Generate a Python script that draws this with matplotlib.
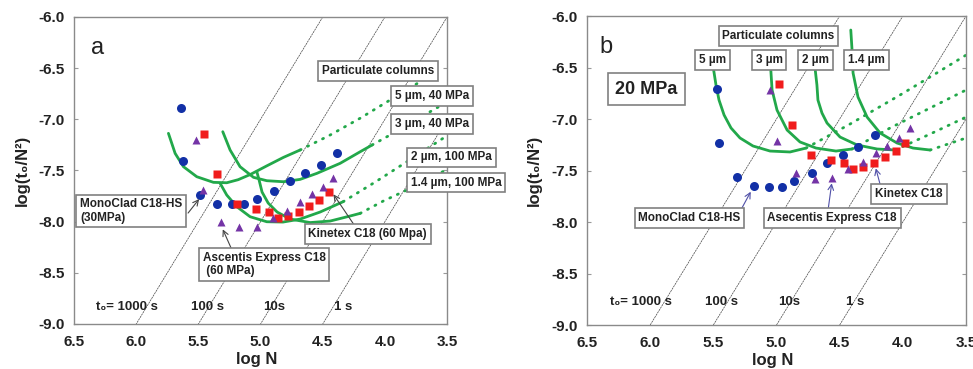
import numpy as np
import matplotlib
matplotlib.use("Agg")
import matplotlib.pyplot as plt

plt.rcParams['font.family'] = ['Liberation Sans', 'DejaVu Sans']
plt.rcParams['axes.unicode_minus'] = False

# ---- panel a data ----
a_mono_x = [5.642, 5.626, 5.486, 5.352, 5.231, 5.130, 5.025, 4.889, 4.762, 4.639, 4.518, 4.387]
a_mono_y = [-6.886, -7.408, -7.740, -7.828, -7.831, -7.828, -7.779, -7.701, -7.603, -7.528, -7.450, -7.333]
a_kin_x = [5.452, 5.350, 5.191, 5.036, 4.934, 4.861, 4.781, 4.692, 4.607, 4.527, 4.446]
a_kin_y = [-7.141, -7.535, -7.828, -7.877, -7.906, -7.962, -7.945, -7.909, -7.844, -7.789, -7.714]
a_asc_x = [5.519, 5.462, 5.317, 5.170, 5.030, 4.897, 4.784, 4.682, 4.585, 4.494, 4.414]
a_asc_y = [-7.202, -7.691, -8.001, -8.056, -8.056, -7.968, -7.893, -7.805, -7.733, -7.665, -7.571]

# kinetic plot curves, panel a: solid part then dotted extension
a_5um_x = [5.741, 5.687, 5.620, 5.513, 5.379, 5.272, 5.180, 5.084, 4.950, 4.816, 4.682]
a_5um_y = [-7.137, -7.333, -7.463, -7.561, -7.616, -7.620, -7.590, -7.540, -7.455, -7.372, -7.300]
a_5um_dx = [4.682, 4.450, 4.200, 3.958, 3.700]
a_5um_dy = [-7.300, -7.160, -6.990, -6.811, -6.620]
a_3um_x = [5.304, 5.245, 5.165, 5.057, 4.950, 4.816, 4.682, 4.547, 4.360, 4.199, 4.103]
a_3um_y = [-7.121, -7.300, -7.463, -7.567, -7.600, -7.610, -7.587, -7.528, -7.430, -7.317, -7.251]
a_3um_dx = [4.103, 3.958, 3.797, 3.612, 3.500]
a_3um_dy = [-7.251, -7.153, -7.036, -6.909, -6.830]
a_2um_x = [5.325, 5.272, 5.191, 5.084, 4.950, 4.819, 4.682, 4.521, 4.336]
a_2um_y = [-7.626, -7.740, -7.854, -7.952, -8.001, -8.004, -7.975, -7.906, -7.805]
a_2um_dx = [4.336, 4.078, 3.823, 3.500]
a_2um_dy = [-7.805, -7.613, -7.414, -7.160]
a_14um_x = [5.030, 5.012, 4.988, 4.939, 4.867, 4.762, 4.601, 4.440, 4.280, 4.199]
a_14um_y = [-7.512, -7.593, -7.711, -7.818, -7.906, -7.975, -8.009, -7.994, -7.945, -7.919]
a_14um_dx = [4.199, 4.014, 3.823, 3.500]
a_14um_dy = [-7.919, -7.799, -7.691, -7.490]

# ---- panel b data ----
b_mono_x = [5.468, 5.452, 5.315, 5.178, 5.059, 4.958, 4.859, 4.721, 4.597, 4.471, 4.357, 4.220]
b_mono_y = [-6.709, -7.230, -7.560, -7.650, -7.663, -7.657, -7.602, -7.527, -7.430, -7.350, -7.269, -7.155]
b_kin_x = [4.977, 4.877, 4.726, 4.571, 4.463, 4.397, 4.312, 4.225, 4.138, 4.056, 3.980]
b_kin_y = [-6.660, -7.061, -7.350, -7.398, -7.430, -7.485, -7.466, -7.424, -7.366, -7.311, -7.230]
b_asc_x = [5.051, 4.993, 4.848, 4.698, 4.563, 4.431, 4.317, 4.212, 4.123, 4.028, 3.943]
b_asc_y = [-6.718, -7.210, -7.527, -7.583, -7.576, -7.489, -7.414, -7.333, -7.259, -7.181, -7.090]

b_5um_x = [5.500, 5.479, 5.455, 5.415, 5.360, 5.289, 5.186, 5.051, 4.893, 4.766]
b_5um_y = [-6.505, -6.670, -6.816, -6.961, -7.087, -7.184, -7.262, -7.311, -7.320, -7.282]
b_5um_dx = [4.766, 4.418, 4.022, 3.745, 3.499]
b_5um_dy = [-7.282, -7.049, -6.767, -6.563, -6.379]
b_3um_x = [5.046, 5.035, 4.996, 4.916, 4.814, 4.687, 4.529, 4.402]
b_3um_y = [-6.505, -6.718, -6.913, -7.107, -7.223, -7.282, -7.311, -7.291]
b_3um_dx = [4.402, 4.101, 3.784, 3.499]
b_3um_dy = [-7.291, -7.087, -6.893, -6.718]
b_2um_x = [4.695, 4.680, 4.672, 4.640, 4.600, 4.497, 4.362, 4.204, 4.061]
b_2um_y = [-6.505, -6.670, -6.816, -6.942, -7.039, -7.175, -7.252, -7.291, -7.301]
b_2um_dx = [4.061, 3.784, 3.499]
b_2um_dy = [-7.301, -7.146, -6.981]
b_14um_x = [4.412, 4.402, 4.394, 4.355, 4.283, 4.180, 4.046, 3.919, 3.784]
b_14um_y = [-6.136, -6.330, -6.553, -6.786, -6.981, -7.136, -7.233, -7.282, -7.301]
b_14um_dx = [3.784, 3.499]
b_14um_dy = [-7.301, -7.184]

t0_values = [1000, 100, 10, 1]
t0_labels = ['t\u2080= 1000 s', '100 s', '10s', '1 s']
a_t0_label_x = [6.078, 5.430, 4.891, 4.340]
b_t0_label_x = [6.072, 5.439, 4.897, 4.378]

xtick_vals = [6.5, 6.0, 5.5, 5.0, 4.5, 4.0, 3.5]
ytick_vals = [-6.0, -6.5, -7.0, -7.5, -8.0, -8.5, -9.0]

GREEN = '#22a84a'
BLUE = '#1230a6'
RED = '#f01c1c'
PURPLE = '#7434a6'
BOX = dict(boxstyle='square,pad=0.32', fc='white', ec='#808080', lw=1.2)

fig = plt.figure(figsize=(9.73, 3.69), dpi=100)
ax_a = fig.add_axes([0.0761, 0.1220, 0.3834, 0.8320])
ax_b = fig.add_axes([0.6033, 0.1192, 0.3895, 0.8374])


def setup(ax, ylab_x):
    ax.set_xlim(6.5, 3.5)
    ax.set_ylim(-9.0, -6.0)
    for s in ax.spines.values():
        s.set_color('#8a8a8a')
        s.set_linewidth(1.0)
    ax.set_xticks(xtick_vals)
    ax.set_xticklabels(['%.1f' % v for v in xtick_vals])
    ax.set_xticks([6.0, 5.5, 5.0, 4.5, 4.0], minor=True)
    ax.tick_params(axis='x', which='major', length=0, pad=8, labelsize=11)
    ax.tick_params(axis='x', which='minor', direction='in', length=4, width=2.2, color='#111')
    ax.set_yticks(ytick_vals)
    ax.set_yticklabels(['%.1f' % v for v in ytick_vals])
    ax.tick_params(axis='y', direction='in', length=3, width=0.8, color='#999',
                   right=True, pad=7, labelsize=11)
    for lab in ax.get_xticklabels() + ax.get_yticklabels():
        lab.set_fontweight('bold')
        lab.set_color('#222')
    ax.set_xlabel('log N', fontsize=12, fontweight='bold', color='#222')
    ax.xaxis.set_label_coords(0.49, -0.092)
    ax.set_ylabel('log(t\u2080/N\u00b2)', fontsize=12, fontweight='bold', color='#222')
    ax.yaxis.set_label_coords(ylab_x, 0.5)
    # iso-t0 lines: log(t0/N^2) = log t0 - 2 log N
    xs = np.array([6.5, 3.5])
    for t0 in t0_values:
        ax.plot(xs, np.log10(t0) - 2 * xs, color='#444', lw=0.5, ls=(0, (3, 1)), zorder=1)


def curve(ax, sx, sy, dx, dy):
    ax.plot(sx, sy, color=GREEN, lw=2.0, zorder=2, solid_capstyle='round')
    ax.plot(dx, dy, color=GREEN, lw=2.0, ls=(0, (0.4, 2.6)), dash_capstyle='round', zorder=2)


def markers(ax, mx, my, kx, ky, sx, sy):
    ax.plot(mx, my, 'o', color=BLUE, ms=6.5, mec='none', zorder=4)
    ax.plot(kx, ky, 's', color=RED, ms=5.2, mec='none', zorder=4)
    ax.plot(sx, sy, '^', color=PURPLE, ms=6, mec='none', zorder=4)


def arrow(ax, tail, head, color):
    ax.annotate('', xy=head, xytext=tail,
                arrowprops=dict(arrowstyle='->,head_length=0.4,head_width=0.2',
                                color=color, lw=0.8, shrinkA=0, shrinkB=0), zorder=5)


# ---------------- panel a ----------------
ax = ax_a
setup(ax, -0.118)
curve(ax, a_5um_x, a_5um_y, a_5um_dx, a_5um_dy)
curve(ax, a_3um_x, a_3um_y, a_3um_dx, a_3um_dy)
curve(ax, a_2um_x, a_2um_y, a_2um_dx, a_2um_dy)
curve(ax, a_14um_x, a_14um_y, a_14um_dx, a_14um_dy)
markers(ax, a_mono_x, a_mono_y, a_kin_x, a_kin_y, a_asc_x, a_asc_y)

ax.text(6.307, -6.30, 'a', fontsize=17, ha='center', va='center', color='#222')
tk = dict(fontsize=8.5, fontweight='bold', color='#222', bbox=BOX, zorder=6)
ax.text(4.058, -6.528, 'Particulate columns', ha='center', va='center', **tk)
ax.text(3.918, -6.772, '5 \u00b5m, 40 MPa', ha='left', va='center', **tk)
ax.text(3.918, -7.046, '3 \u00b5m, 40 MPa', ha='left', va='center', **tk)
ax.text(3.791, -7.373, '2 \u00b5m, 100 MPa', ha='left', va='center', **tk)
ax.text(3.791, -7.618, '1.4 \u00b5m, 100 MPa', ha='left', va='center', **tk)
ax.text(6.452, -7.896, 'MonoClad C18-HS\n(30MPa)', ha='left', va='center', linespacing=1.15, **tk)
ax.text(5.465, -8.419, 'Ascentis Express C18\n (60 MPa)', ha='left', va='center', linespacing=1.15, **tk)
ax.text(4.139, -8.121, 'Kinetex C18 (60 Mpa)', ha='center', va='center', **tk)
arrow(ax, (5.583, -7.916), (5.494, -7.779), '#444')
arrow(ax, (5.237, -8.258), (5.304, -8.075), '#444')
arrow(ax, (4.247, -8.033), (4.414, -7.733), '#444')
for lx, lab in zip(a_t0_label_x, t0_labels):
    ax.text(lx, -8.832, lab, ha='center', va='center', fontsize=9.5, fontweight='bold', color='#222')

# ---------------- panel b ----------------
ax = ax_b
setup(ax, -0.119)
curve(ax, b_5um_x, b_5um_y, b_5um_dx, b_5um_dy)
curve(ax, b_3um_x, b_3um_y, b_3um_dx, b_3um_dy)
curve(ax, b_2um_x, b_2um_y, b_2um_dx, b_2um_dy)
curve(ax, b_14um_x, b_14um_y, b_14um_dx, b_14um_dy)
markers(ax, b_mono_x, b_mono_y, b_kin_x, b_kin_y, b_asc_x, b_asc_y)

ax.text(6.35, -6.298, 'b', fontsize=17, ha='center', va='center', color='#222')
ax.text(6.029, -6.709, '20 MPa', ha='center', va='center', fontsize=13, fontweight='bold',
        color='#222', bbox=dict(boxstyle='square,pad=0.42', fc='white', ec='#808080', lw=1.2), zorder=6)
ax.text(4.984, -6.194, 'Particulate columns', ha='center', va='center', **tk)
ax.text(5.506, -6.427, '5 \u00b5m', ha='center', va='center', **tk)
ax.text(5.059, -6.427, '3 \u00b5m', ha='center', va='center', **tk)
ax.text(4.691, -6.427, '2 \u00b5m', ha='center', va='center', **tk)
ax.text(4.287, -6.427, '1.4 \u00b5m', ha='center', va='center', **tk)
ax.text(5.688, -7.961, 'MonoClad C18-HS', ha='center', va='center', **tk)
ax.text(4.560, -7.961, 'Asecentis Express C18', ha='center', va='center', **tk)
ax.text(3.951, -7.728, 'Kinetex C18', ha='center', va='center', **tk)
arrow(ax, (5.275, -7.867), (5.204, -7.706), '#5050a8')
arrow(ax, (4.590, -7.867), (4.563, -7.624), '#5050a8')
arrow(ax, (4.180, -7.634), (4.214, -7.479), '#5050a8')
for lx, lab in zip(b_t0_label_x, t0_labels):
    ax.text(lx, -8.774, lab, ha='center', va='center', fontsize=9.5, fontweight='bold', color='#222')

fig.savefig('out.png', dpi=100)
